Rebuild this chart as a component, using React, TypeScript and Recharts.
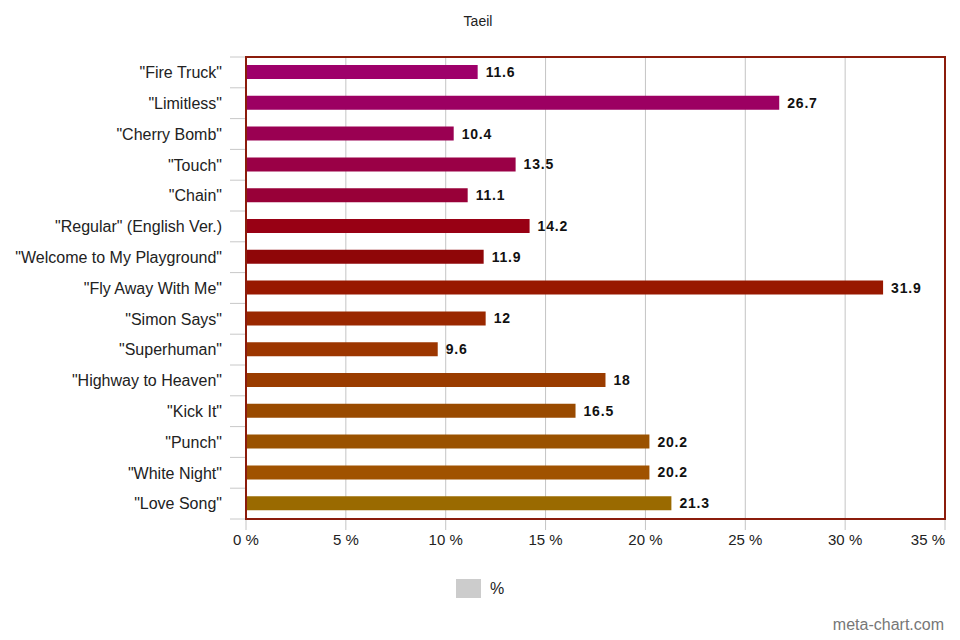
import { BarChart, Bar, XAxis, YAxis, CartesianGrid, Cell, LabelList } from 'recharts';

const songs = [
  '"Fire Truck"',
  '"Limitless"',
  '"Cherry Bomb"',
  '"Touch"',
  '"Chain"',
  '"Regular" (English Ver.)',
  '"Welcome to My Playground"',
  '"Fly Away With Me"',
  '"Simon Says"',
  '"Superhuman"',
  '"Highway to Heaven"',
  '"Kick It"',
  '"Punch"',
  '"White Night"',
  '"Love Song"',
];
const percents = [11.6, 26.7, 10.4, 13.5, 11.1, 14.2, 11.9, 31.9, 12, 9.6, 18, 16.5, 20.2, 20.2, 21.3];
const xTicks = [0, 5, 10, 15, 20, 25, 30, 35];
const seriesName = '%';

// bar colours, top to bottom
const barColors = [
  '#9e006a', '#9c0062', '#9a0052', '#9a0046', '#980038',
  '#980014', '#8f0608', '#981800', '#9a2800', '#9c3600',
  '#9a3c00', '#994a00', '#9a5200', '#a05200', '#9a6a00',
];

const data = songs.map((song, i) => ({ song, value: percents[i] }));

const FONT = '"Liberation Sans", Arial, sans-serif';
const PLOT_TOP = 57;
const PLOT_BOTTOM = 519;
const PLOT_LEFT = 246;
const PLOT_RIGHT = 945;
const STEP = (PLOT_BOTTOM - PLOT_TOP) / songs.length;

const SongTick = ({ x, y, payload, index }: any) => (
  <g>
    <line x1={x + 8} x2={x + 24} y1={y - STEP / 2} y2={y - STEP / 2} stroke="#c8c8c8" />
    {index === songs.length - 1 && (
      <line x1={x + 8} x2={x + 24} y1={y + STEP / 2} y2={y + STEP / 2} stroke="#c8c8c8" />
    )}
    <text x={x} y={y} dy="0.36em" textAnchor="end" fontSize={16} fill="#222" fontFamily={FONT}>
      {payload.value}
    </text>
  </g>
);

const PercentTick = ({ x, y, payload, index }: any) => (
  <text
    x={x}
    y={y}
    dy="0.71em"
    textAnchor={index === xTicks.length - 1 ? 'end' : 'middle'}
    fontSize={15}
    fill="#222"
    fontFamily={FONT}
  >
    {`${payload.value} %`}
  </text>
);

export default function App() {
  return (
    <div style={{ position: 'absolute', left: 0, top: 0, width: 960, height: 640, background: '#fff', fontFamily: FONT }}>
      <div style={{ position: 'absolute', top: 13, left: 0, width: 956, textAlign: 'center', fontSize: 14, color: '#222' }}>
        Taeil
      </div>
      <BarChart
        width={960}
        height={640}
        layout="vertical"
        data={data}
        margin={{ top: PLOT_TOP, right: 960 - PLOT_RIGHT, bottom: 640 - PLOT_BOTTOM - 40, left: 6 }}
        barCategoryGap={0}
      >
        <CartesianGrid horizontal={false} stroke="#c4c4c4" />
        <XAxis
          type="number"
          domain={[0, 35]}
          ticks={xTicks}
          axisLine={false}
          tickLine={{ stroke: '#c4c4c4' }}
          tickSize={11}
          tickMargin={4}
          tick={<PercentTick />}
          height={40}
        />
        <YAxis
          type="category"
          dataKey="song"
          width={PLOT_LEFT - 6}
          axisLine={false}
          tickLine={false}
          tickSize={16}
          tickMargin={8}
          tick={<SongTick />}
          interval={0}
        />
        <Bar dataKey="value" name={seriesName} barSize={14} isAnimationActive={false}>
          {data.map((d, i) => (
            <Cell key={d.song} fill={barColors[i]} />
          ))}
          <LabelList
            dataKey="value"
            position="right"
            offset={8}
            style={{ fontSize: 14, fontWeight: 'bold', fill: '#111', letterSpacing: 0.8, fontFamily: FONT }}
          />
        </Bar>
      </BarChart>
      <div
        style={{
          position: 'absolute',
          left: PLOT_LEFT - 1,
          top: PLOT_TOP - 1,
          width: PLOT_RIGHT - PLOT_LEFT + 2,
          height: PLOT_BOTTOM - PLOT_TOP + 2,
          border: '2px solid #8b1c0c',
          boxSizing: 'border-box',
          pointerEvents: 'none',
        }}
      />
      <div
        style={{
          position: 'absolute',
          top: 579,
          left: 0,
          width: 960,
          display: 'flex',
          justifyContent: 'center',
          alignItems: 'center',
          gap: 9,
        }}
      >
        <span style={{ width: 25, height: 19, background: '#cccccc', display: 'inline-block' }} />
        <span style={{ fontSize: 16, color: '#222' }}>{seriesName}</span>
      </div>
      <div style={{ position: 'absolute', right: 16, top: 616, fontSize: 16, color: '#777' }}>meta-chart.com</div>
    </div>
  );
}
